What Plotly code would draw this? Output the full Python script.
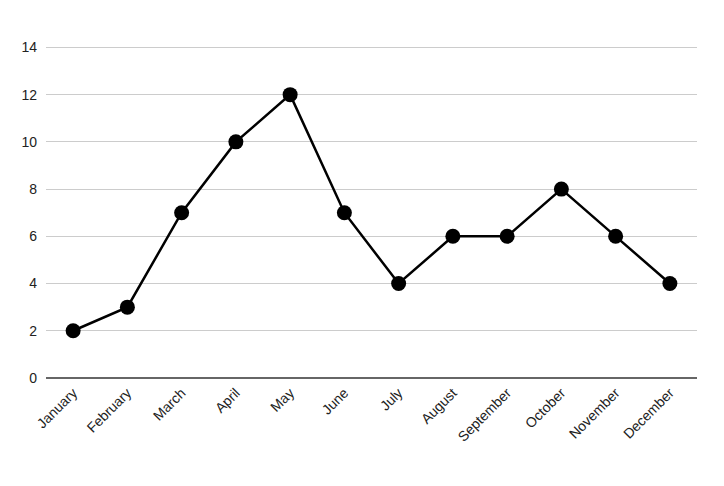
import plotly.graph_objects as go

months = ["January", "February", "March", "April", "May", "June", "July",
          "August", "September", "October", "November", "December"]
values = [2, 3, 7, 10, 12, 7, 4, 6, 6, 8, 6, 4]

fig = go.Figure()
fig.add_trace(go.Scatter(
    x=months,
    y=values,
    mode="lines+markers",
    line=dict(color="black", width=2.5),
    marker=dict(color="black", size=15),
    showlegend=False,
    cliponaxis=False,
))

# page body adds an 8px offset, so margins are trimmed accordingly
fig.update_layout(
    width=724,
    height=486,
    margin=dict(l=38, r=35, t=38, b=116, autoexpand=False),
    paper_bgcolor="white",
    plot_bgcolor="white",
    font=dict(family="Liberation Sans, Arial", size=14, color="#222222"),
)
fig.update_xaxes(
    range=[-0.5, 11.5],
    tickangle=-45,
    showgrid=False,
    ticks="",
    ticklabelstandoff=3,
    automargin=False,
)
fig.update_yaxes(
    range=[0, 14.06],
    tickvals=[0, 2, 4, 6, 8, 10, 12, 14],
    showgrid=True,
    gridcolor="#cccccc",
    gridwidth=1,
    zeroline=True,
    zerolinecolor="#666666",
    zerolinewidth=2,
    ticks="",
    ticklabelstandoff=8,
    automargin=False,
)

fig.write_html("out.html")
